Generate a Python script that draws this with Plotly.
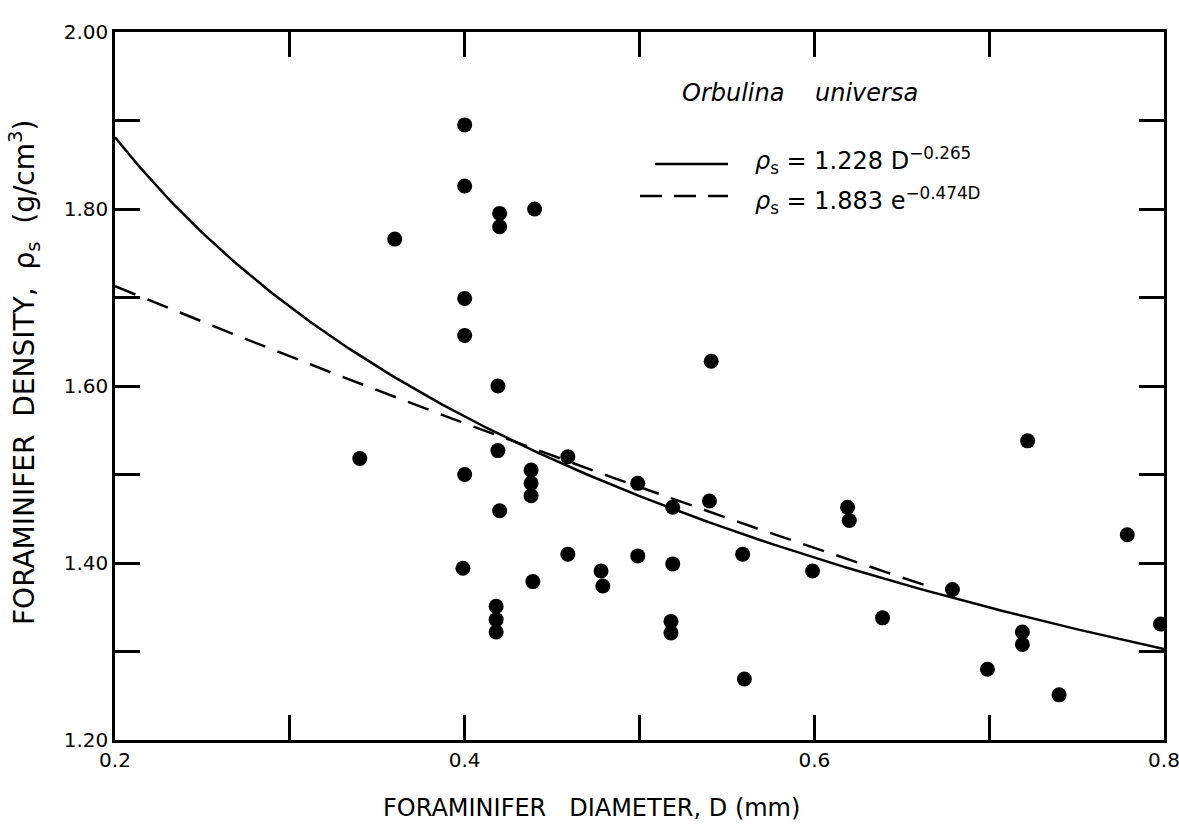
import numpy as np
import plotly.graph_objects as go

# ---- data ----
diameter_mm = [0.340, 0.360, 0.400, 0.400, 0.400, 0.400, 0.400, 0.399,
               0.420, 0.420, 0.440, 0.419, 0.419, 0.420, 0.418, 0.418, 0.418,
               0.438, 0.438, 0.438, 0.439, 0.459, 0.459, 0.478, 0.479,
               0.499, 0.499, 0.519, 0.519, 0.518, 0.518, 0.540, 0.541,
               0.559, 0.560, 0.599, 0.619, 0.620, 0.639, 0.679, 0.699,
               0.719, 0.719, 0.722, 0.740, 0.779, 0.798]
density = [1.518, 1.766, 1.895, 1.826, 1.699, 1.657, 1.500, 1.394,
           1.795, 1.780, 1.800, 1.600, 1.527, 1.459, 1.351, 1.336, 1.322,
           1.505, 1.490, 1.476, 1.379, 1.520, 1.410, 1.391, 1.374,
           1.490, 1.408, 1.463, 1.399, 1.334, 1.321, 1.470, 1.628,
           1.410, 1.269, 1.391, 1.463, 1.448, 1.338, 1.370, 1.280,
           1.322, 1.308, 1.538, 1.251, 1.432, 1.331]

# fitted relations given in the figure
power_coef, power_exp = 1.228, -0.265
exp_coef, exp_rate = 1.883, -0.474
power_range = [0.2, 0.8]
exp_range = [0.2, 0.665]

x_major = [0.2, 0.4, 0.6, 0.8]
x_major_text = ["0.2", "0.4", "0.6", "0.8"]
x_minor = [0.3, 0.5, 0.7]
y_major = [1.2, 1.4, 1.6, 1.8, 2.0]
y_major_text = ["1.20", "1.40", "1.60", "1.80", "2.00"]
y_minor = [1.3, 1.5, 1.7, 1.9]

# ---- layout geometry (pixels) ----
W, H = 1179, 825
L, R, T, B = 115, 1164, 32, 740

def px(x):
    return (x - L) / (R - L)

def py(y):
    return 1 - (y - T) / (B - T)

FONT = "DejaVu Sans"
SP = "&nbsp;"

D1 = np.linspace(power_range[0], power_range[1], 200)
D2 = np.linspace(exp_range[0], exp_range[1], 200)

fig = go.Figure()
fig.add_trace(go.Scatter(x=D1, y=power_coef * D1 ** power_exp, mode="lines",
                         line=dict(color="black", width=2.5), showlegend=False,
                         hoverinfo="skip"))
fig.add_trace(go.Scatter(x=D2, y=exp_coef * np.exp(exp_rate * D2), mode="lines",
                         line=dict(color="black", width=2.5, dash="22px,13px"),
                         showlegend=False, hoverinfo="skip"))
fig.add_trace(go.Scatter(x=diameter_mm, y=density, mode="markers",
                         marker=dict(color="black", size=15, line=dict(width=0)),
                         showlegend=False))

axis_common = dict(ticks="inside", ticklen=25, tickwidth=2.5, tickcolor="black",
                   showline=True, linewidth=2.5, linecolor="black",
                   mirror="allticks", showgrid=False, zeroline=False,
                   automargin=False, ticklabeloverflow="allow",
                   tickfont=dict(family=FONT, size=20, color="black"))

fig.update_xaxes(range=[0.2, 0.8], tickmode="array", tickvals=x_major,
                 ticktext=x_major_text,
                 minor=dict(tickmode="array", tickvals=x_minor, ticks="inside",
                            ticklen=25, tickwidth=2.5, tickcolor="black", showgrid=False),
                 **axis_common)
fig.update_yaxes(range=[1.2, 2.0], tickmode="array", tickvals=y_major,
                 ticktext=y_major_text,
                 minor=dict(tickmode="array", tickvals=y_minor, ticks="inside",
                            ticklen=25, tickwidth=2.5, tickcolor="black", showgrid=False),
                 **axis_common)

shapes = [
    dict(type="line", xref="paper", yref="paper", x0=px(655), x1=px(728),
         y0=py(164), y1=py(164), line=dict(color="black", width=2.5)),
    dict(type="line", xref="paper", yref="paper", x0=px(640), x1=px(728),
         y0=py(196), y1=py(196), line=dict(color="black", width=2.5, dash="22px,12px")),
]

annotations = [
    dict(text="FORAMINIFER" + SP * 3 + "DIAMETER," + SP + "D" + SP + "(mm)",
         xref="paper", yref="paper", x=px(591), y=py(808),
         xanchor="center", yanchor="middle", showarrow=False,
         font=dict(family=FONT, size=24, color="black")),
    dict(text="FORAMINIFER" + SP * 2 + "DENSITY," + SP * 2 + "ρ<sub>s</sub>" + SP * 2
         + "(g/cm<sup>3</sup>)",
         xref="paper", yref="paper", x=px(24), y=py(373), textangle=-90,
         xanchor="center", yanchor="middle", showarrow=False,
         font=dict(family=FONT, size=28, color="black")),
    dict(text="<i>Orbulina" + SP * 4 + "universa</i>", xref="paper", yref="paper",
         x=px(680), y=py(93), xanchor="left", yanchor="middle", showarrow=False,
         font=dict(family=FONT, size=24, color="black")),
    dict(text="<i>ρ</i><sub>s</sub> = 1.228 D<sup>−0.265</sup>", xref="paper", yref="paper",
         x=px(753), y=py(161), xanchor="left", yanchor="middle", showarrow=False,
         font=dict(family=FONT, size=24, color="black")),
    dict(text="<i>ρ</i><sub>s</sub> = 1.883 e<sup>−0.474D</sup>", xref="paper", yref="paper",
         x=px(753), y=py(200), xanchor="left", yanchor="middle", showarrow=False,
         font=dict(family=FONT, size=24, color="black")),
]

fig.update_layout(width=W, height=H, autosize=False,
                  margin=dict(l=L, r=W - R, t=T, b=H - B, pad=0, autoexpand=False),
                  paper_bgcolor="white", plot_bgcolor="white",
                  shapes=shapes, annotations=annotations,
                  font=dict(family=FONT, color="black"))

fig.write_html("out.html")
